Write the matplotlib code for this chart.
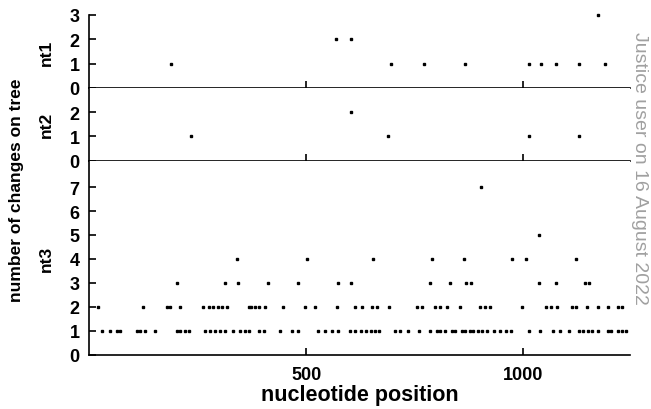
import matplotlib
matplotlib.use("Agg")
import matplotlib.pyplot as plt

plt.rcParams['font.family'] = ['Liberation Sans', 'DejaVu Sans']

# posiciones de los sitios con cambios, por numero de cambios
nt1_pos = [189, 569, 603, 694, 772, 866, 1014, 1041, 1076, 1127, 1171, 1189]
nt1_val = [1, 2, 2, 1, 1, 1, 1, 1, 1, 1, 3, 1]

nt2_pos = [235, 603, 689, 1014, 1127]
nt2_val = [1, 2, 1, 1, 1]

nt3_1 = [29, 48, 64, 71, 110, 118, 129, 152, 202, 210, 221, 229, 267, 279, 290,
         302, 313, 332, 348, 359, 367, 390, 402, 440, 467, 482, 528, 544, 559,
         574, 601, 613, 627, 638, 649, 659, 668, 705, 717, 735, 759, 786, 801,
         809, 820, 836, 843, 859, 866, 878, 885, 896, 905, 916, 933, 947, 959,
         972, 1012, 1039, 1069, 1085, 1104, 1127, 1138, 1150, 1159, 1173, 1194,
         1203, 1217, 1228, 1237]
nt3_2 = [21, 125, 179, 187, 210, 263, 275, 286, 297, 306, 317, 367, 373, 382,
         392, 406, 446, 498, 521, 571, 613, 628, 652, 664, 690, 755, 767, 797,
         809, 824, 855, 901, 912, 924, 997, 1053, 1064, 1078, 1111, 1122, 1147,
         1173, 1196, 1219, 1228]
nt3_3 = [202, 313, 343, 412, 480, 574, 603, 786, 830, 868, 879, 1037, 1076,
         1143, 1152]
nt3_4 = [340, 501, 654, 790, 864, 974, 1007, 1122]
nt3_5 = [1035]
nt3_7 = [902]

nt3_pos = nt3_1 + nt3_2 + nt3_3 + nt3_4 + nt3_5 + nt3_7
nt3_val = ([1] * len(nt3_1) + [2] * len(nt3_2) + [3] * len(nt3_3)
           + [4] * len(nt3_4) + [5] * len(nt3_5) + [7] * len(nt3_7))

fig = plt.figure(figsize=(6.51, 4.10), dpi=100)
gs = fig.add_gridspec(3, 1, height_ratios=[3, 3, 8], hspace=0,
                      left=0.137, right=0.968, top=0.961, bottom=0.132)
axs = [fig.add_subplot(gs[i]) for i in range(3)]

datos = [(nt1_pos, nt1_val, 3, [0, 1, 2, 3], "nt1"),
         (nt2_pos, nt2_val, 3, [0, 1, 2], "nt2"),
         (nt3_pos, nt3_val, 8.1, list(range(8)), "nt3")]

for ax, (x, y, ymax, yt, nombre) in zip(axs, datos):
    ax.plot(x, y, 's', color='black', markersize=1.8, linestyle='none',
            clip_on=False)
    ax.set_xlim(0, 1246)
    ax.set_ylim(0, ymax)
    ax.set_yticks(yt)
    ax.set_xticks([500, 1000])
    for s in ['top', 'right']:
        ax.spines[s].set_visible(False)
    ax.spines['left'].set_linewidth(1.2)
    ax.spines['bottom'].set_linewidth(1.2)
    ax.tick_params(direction='in', length=5, width=1.2, labelsize=13)
    ax.tick_params(axis='y', pad=7)
    ax.set_ylabel(nombre, fontsize=12.5, fontweight='bold', labelpad=11)
    for t in ax.get_yticklabels():
        t.set_fontweight('bold')

axs[0].tick_params(axis='x', labelbottom=False)
axs[1].tick_params(axis='x', labelbottom=False)
axs[2].tick_params(axis='x', pad=8)
for t in axs[2].get_xticklabels():
    t.set_fontweight('bold')
axs[2].set_xlabel("nucleotide position", fontsize=15.5, fontweight='bold',
                  labelpad=1)

fig.text(0.026, 0.537, "number of changes on tree", rotation=90, ha='center',
         va='center', fontsize=12.5, fontweight='bold')

fig.text(0.983, 1 - 305 / 410, "Justice user on 16 August 2022",
         rotation=-90, ha='center', va='bottom', fontsize=14, color='#a0a0a0')

fig.savefig("out.png", dpi=100)
